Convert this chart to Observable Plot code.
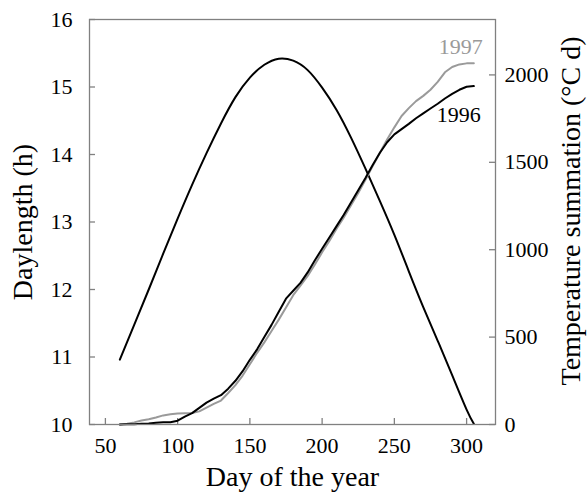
<!DOCTYPE html>
<html><head><meta charset="utf-8">
<script src="https://cdn.jsdelivr.net/npm/d3@7"></script>
<script src="https://cdn.jsdelivr.net/npm/@observablehq/plot@0.6"></script>
<style>body{margin:0;background:#fff;}</style>
</head><body><div id="chart"></div>
<script>
// Daylength (h)
const dayLengthDays  = [60, 70, 80, 90, 100, 110, 120, 130, 140, 150, 160, 170, 180, 190, 200, 210, 220, 230, 240, 250, 260, 270, 280, 290, 300, 305];
const dayLengthHours = [10.96, 11.48, 12.00, 12.53, 13.05, 13.55, 14.02, 14.46, 14.85, 15.14, 15.33, 15.42, 15.39, 15.25, 14.99, 14.66, 14.25, 13.79, 13.31, 12.81, 12.27, 11.74, 11.24, 10.73, 10.22, 10.01];

// Temperature summation (°C d)
const tempDays = [60, 65, 70, 75, 80, 85, 90, 95, 100, 105, 110, 115, 120, 125, 130, 135, 140, 145, 150, 155, 160, 165, 170, 175, 180, 185, 190, 195, 200, 205, 210, 215, 220, 225, 230, 235, 240, 245, 250, 255, 260, 265, 270, 275, 280, 285, 290, 295, 300, 305];
const temp1996 = [0, 1, 2, 4, 6, 10, 13, 13, 22, 45, 65, 95, 125, 148, 168, 205, 250, 305, 370, 430, 500, 570, 645, 720, 765, 810, 870, 940, 1005, 1070, 1135, 1200, 1270, 1340, 1410, 1485, 1555, 1615, 1660, 1690, 1720, 1752, 1780, 1808, 1835, 1865, 1892, 1915, 1932, 1936];
const temp1997 = [0, 5, 12, 23, 30, 40, 52, 58, 63, 65, 66, 75, 97, 118, 137, 180, 225, 280, 345, 410, 470, 535, 600, 670, 740, 795, 850, 915, 985, 1050, 1120, 1185, 1255, 1325, 1400, 1478, 1555, 1630, 1700, 1765, 1810, 1850, 1880, 1915, 1960, 2015, 2045, 2060, 2066, 2066];

const xTicks = [50, 100, 150, 200, 250, 300];
const leftTicks = [10, 11, 12, 13, 14, 15, 16];
const rightTicks = [0, 500, 1000, 1500, 2000];
const hDomain = [10, 16];
const tempTop = 2317; // temperature value at the top of the frame
const toH = t => hDomain[0] + t * (hDomain[1] - hDomain[0]) / tempTop;

const dl = dayLengthDays.map((d, i) => ({day: d, h: dayLengthHours[i]}));
const t96 = tempDays.map((d, i) => ({day: d, t: temp1996[i], year: "1996"}));
const t97 = tempDays.map((d, i) => ({day: d, t: temp1997[i], year: "1997"}));

const W = 587, H = 501, mL = 89, mR = 92, mT = 19, mB = 77;
const pw = W - mL - mR, ph = H - mT - mB;
const axisGray = "#808080";
const serif = "'Liberation Serif', 'Times New Roman', serif";

const chart = Plot.plot({
  width: W, height: H,
  marginLeft: mL, marginRight: mR, marginTop: mT, marginBottom: mB,
  style: {fontFamily: serif, fontSize: "22px", background: "#fff", color: "#000"},
  x: {domain: [39, 320], axis: null},
  y: {domain: hDomain, axis: null},
  marks: [
    // tick marks (pointing inward)
    Plot.tickY(leftTicks, {y: d => d, insetRight: pw - 6, stroke: axisGray, strokeWidth: 1.3}),
    Plot.tickY(rightTicks, {y: d => toH(d), insetLeft: pw - 6, stroke: axisGray, strokeWidth: 1.3}),
    Plot.tickX(xTicks, {x: d => d, insetTop: ph - 6, stroke: axisGray, strokeWidth: 1.3}),
    // tick labels
    Plot.text(leftTicks, {y: d => d, text: d => String(d), frameAnchor: "left", textAnchor: "end", dx: -17, fontFamily: serif, fontSize: 22}),
    Plot.text(rightTicks, {y: d => toH(d), text: d => String(d), frameAnchor: "right", textAnchor: "start", dx: 9, fontFamily: serif, fontSize: 22}),
    Plot.text(xTicks, {x: d => d, text: d => String(d), frameAnchor: "bottom", textAnchor: "middle", lineAnchor: "top", dy: 13, fontFamily: serif, fontSize: 22}),
    // data
    Plot.line(dl, {x: "day", y: "h", stroke: "#000", strokeWidth: 2, curve: "natural"}),
    Plot.line(t97, {x: "day", y: d => toH(d.t), stroke: "#9a9a9a", strokeWidth: 2}),
    Plot.line(t96, {x: "day", y: d => toH(d.t), stroke: "#000", strokeWidth: 2}),
    Plot.text(t97, Plot.selectLast({x: "day", y: d => toH(d.t), text: "year", textAnchor: "end", dx: 9, dy: -16, fill: "#9a9a9a", fontFamily: serif, fontSize: 22})),
    Plot.text(t96, Plot.selectLast({x: "day", y: d => toH(d.t), text: "year", textAnchor: "end", dx: 7, dy: 29, fill: "#000", fontFamily: serif, fontSize: 22})),
    Plot.frame({stroke: axisGray, strokeWidth: 1.3}),
    // axis titles
    Plot.text(["Day of the year"], {frameAnchor: "bottom", textAnchor: "middle", dy: 61, fontSize: 28, fontFamily: serif}),
    Plot.text(["Daylength (h)"], {frameAnchor: "left", textAnchor: "middle", dx: -66, rotate: -90, fontSize: 28, fontFamily: serif}),
    Plot.text(["Temperature summation (°C d)"], {frameAnchor: "right", textAnchor: "middle", dx: 76, dy: -11, rotate: -90, fontSize: 28, fontFamily: serif})
  ]
});
document.getElementById("chart").appendChild(chart);
</script>
</body></html>
